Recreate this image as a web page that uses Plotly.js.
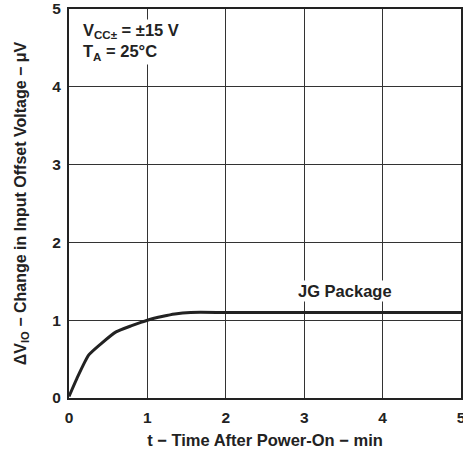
<!DOCTYPE html>
<html><head><meta charset="utf-8">
<script src="https://cdn.plot.ly/plotly-3.0.1.min.js"></script>
<style>html,body{margin:0;padding:0;background:#fff}</style>
</head><body><div id="chart" style="width:463px;height:452px"></div>
<script>
const timeMin = [0, 0.1, 0.25, 0.4, 0.6, 0.8, 1.0, 1.2, 1.35, 1.55, 2, 3, 4, 5];
const deltaVio = [0.02, 0.25, 0.55, 0.69, 0.85, 0.93, 1.0, 1.05, 1.08, 1.1, 1.1, 1.1, 1.1, 1.1];
const tickVals = [0, 1, 2, 3, 4, 5];
const tickText = ['0', '1', '2', '3', '4', '5'];

const fam = 'Liberation Sans, Arial, sans-serif';
const f = (s) => ({family: fam, size: s, weight: 700, color: '#222'});

Plotly.newPlot('chart', [{
  x: timeMin, y: deltaVio, mode: 'lines', type: 'scatter',
  line: {color: '#222', width: 3, shape: 'spline', smoothing: 0.5}, hoverinfo: 'none'
}], {
  width: 463, height: 452,
  margin: {l: 69, r: 2, t: 9, b: 54},
  paper_bgcolor: '#fff', plot_bgcolor: '#fff',
  showlegend: false,
  font: f(15),
  xaxis: {
    range: [0, 5], tickvals: tickVals, ticktext: tickText, showgrid: true,
    gridcolor: '#333', gridwidth: 1, zeroline: false, showline: true, linecolor: '#222', linewidth: 2,
    mirror: true, ticks: '', tickfont: f(15.5), ticklabeloverflow: 'allow', ticklabelstandoff: 4,
    title: {text: 't − Time After Power-On − min', font: f(16.5), standoff: 10}
  },
  yaxis: {
    range: [0, 5], tickvals: tickVals, ticktext: tickText, showgrid: true,
    gridcolor: '#333', gridwidth: 1, zeroline: false, showline: true, linecolor: '#222', linewidth: 2,
    mirror: true, ticks: '', tickfont: f(15.5), ticklabeloverflow: 'allow', ticklabelstandoff: 3,
    title: {text: 'ΔV<sub>IO</sub> − Change in Input Offset Voltage − μV', font: f(16), standoff: 22}
  },
  annotations: [
    {xref: 'paper', yref: 'paper', x: 0.03, y: 0.975, xanchor: 'left', yanchor: 'top', align: 'left',
     text: 'V<sub>CC±</sub> = ±15 V<br>T<sub>A</sub> = 25°C', showarrow: false, bgcolor: '#fff',
     font: f(16.5)},
    {xref: 'x', yref: 'paper', x: 3.52, y: 0.275, xanchor: 'center', yanchor: 'middle',
     text: 'JG Package', showarrow: false, bgcolor: '#fff',
     font: f(16.5)}
  ]
}, {displayModeBar: false, staticPlot: true});
</script></body></html>
